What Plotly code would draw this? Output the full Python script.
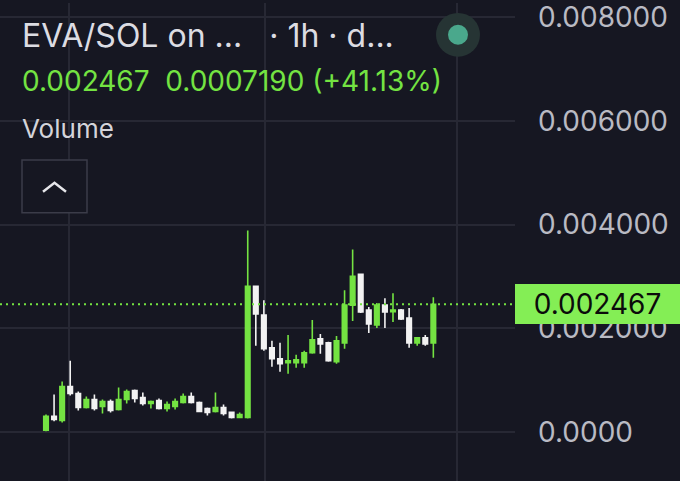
import plotly.graph_objects as go

# Candle values in units of 1e-6 SOL
UNIT = 1e-6
opens = [38, 306, 230, 880, 746, 478, 632, 498, 593, 440, 632, 804, 670, 555, 612, 459, 498, 574, 689, 574,
         459, 402, 478, 383, 287, 287, 2813, 2258, 1627, 1416, 1340, 1340, 1340, 1531, 1799, 1723, 1359, 1723,
         2450, 3043, 2354, 2067, 2450, 2325, 2354, 2201, 1723, 1818, 1723]
highs = [344, 727, 976, 1378, 785, 689, 727, 632, 632, 861, 823, 823, 766, 612, 651, 593, 651, 746, 766, 593,
         478, 766, 536, 402, 383, 3885, 2813, 2545, 1761, 1723, 1876, 1493, 1569, 2163, 1895, 1742, 1856, 2737,
         3522, 3043, 2412, 2488, 2584, 2679, 2373, 2392, 1837, 1876, 2603]
lows = [19, 211, 191, 708, 421, 459, 421, 364, 383, 421, 555, 574, 517, 459, 440, 402, 440, 555, 555, 402,
        325, 383, 325, 268, 287, 268, 1665, 1569, 1263, 1167, 1129, 1244, 1244, 1512, 1512, 1359, 1321, 1608,
        2144, 2297, 1914, 2010, 2010, 2124, 2163, 1627, 1665, 1665, 1435]
closes = [306, 249, 880, 746, 478, 632, 459, 593, 421, 632, 785, 651, 555, 593, 459, 536, 593, 689, 574, 402,
          383, 478, 364, 287, 344, 2813, 2278, 1608, 1416, 1321, 1378, 1397, 1531, 1780, 1703, 1378, 1761, 2450,
          3005, 2316, 2086, 2450, 2316, 2354, 2182, 1723, 1818, 1703, 2467]

ytick_vals = [0.0, 0.002, 0.004, 0.006, 0.008]
ytick_text = ["0.0000", "0.002000", "0.004000", "0.006000", "0.008000"]
xgrid_vals = [2.85, 27.1, 50.9]

title_text = "EVA/SOL on ...\u00a0\u00a0 · 1h · d..."
stats_text = "0.002467\u00a0 0.0007190 (+41.13%)"
volume_text = "Volume"
last_text = "0.002467"

o = [v * UNIT for v in opens]
h = [v * UNIT for v in highs]
l = [v * UNIT for v in lows]
c = [v * UNIT for v in closes]
idx = list(range(len(opens)))

BG = "#161722"
GRID = "#272834"
GREEN = "#74e342"
WHITE = "#f2f2f2"
FONT = "Inter"

W, H = 680, 481
PLOT_W = 515

fig = go.Figure()
fig.add_trace(go.Candlestick(
    x=idx, open=o, high=h, low=l, close=c,
    increasing=dict(fillcolor=GREEN, line=dict(color=GREEN, width=1.6)),
    decreasing=dict(fillcolor=WHITE, line=dict(color=WHITE, width=1.6)),
    whiskerwidth=0, hoverinfo="skip", showlegend=False,
))

last = c[-1]

def px_x(p):
    return p / PLOT_W

def px_y(p):
    return 1 - p / H

shapes = [
    dict(type="line", xref="paper", yref="y", x0=0, x1=1, y0=last, y1=last,
         line=dict(color=GREEN, width=2, dash="2px,4px"), layer="above"),
    # button
    dict(type="rect", xref="paper", yref="paper", x0=px_x(22), x1=px_x(87), y0=px_y(211), y1=px_y(158),
         line=dict(color="#3b3c49", width=1.5), fillcolor=BG, layer="above"),
    dict(type="path", xref="paper", yref="paper",
         path=f"M {px_x(43)} {px_y(190)} L {px_x(54.5)} {px_y(181)} L {px_x(66)} {px_y(190)}",
         line=dict(color="#e6e6ea", width=2.5), layer="above"),
    # status dot
    dict(type="circle", xref="paper", yref="paper", x0=px_x(436), x1=px_x(480), y0=px_y(54), y1=px_y(10),
         line=dict(width=0), fillcolor="#263434", layer="above"),
    dict(type="circle", xref="paper", yref="paper", x0=px_x(448), x1=px_x(468), y0=px_y(42), y1=px_y(22),
         line=dict(width=0), fillcolor="#4aa88c", layer="above"),
]

annotations = [
    dict(text=title_text, xref="paper", yref="paper", x=px_x(20), y=px_y(33), xanchor="left", yanchor="middle",
         showarrow=False, font=dict(family=FONT, size=32, color="#dcdce2")),
    dict(text=stats_text, xref="paper", yref="paper", x=px_x(20), y=px_y(78), xanchor="left", yanchor="middle",
         showarrow=False, font=dict(family=FONT, size=28, color=GREEN)),
    dict(text=volume_text, xref="paper", yref="paper", x=px_x(20), y=px_y(126), xanchor="left", yanchor="middle",
         showarrow=False, font=dict(family=FONT, size=26, color="#d4d4da")),
    dict(text=last_text, xref="paper", yref="y", x=1, y=last, xanchor="left", yanchor="middle",
         showarrow=False, bgcolor="#84ee55", width=165, height=40, borderpad=0, borderwidth=0,
         align="center", font=dict(family=FONT, size=28, color="#0b0b0b")),
]

fig.update_layout(
    width=W, height=H,
    margin=dict(l=0, r=W - PLOT_W, t=0, b=0),
    paper_bgcolor=BG, plot_bgcolor=BG,
    boxgap=0.2,
    shapes=shapes, annotations=annotations,
    xaxis=dict(range=[-5.70, 58.12], tickvals=xgrid_vals, showticklabels=False, showgrid=True,
               gridcolor=GRID, gridwidth=1.5, zeroline=False, showline=False, ticks="",
               rangeslider=dict(visible=False), fixedrange=True),
    yaxis=dict(side="right", range=[-0.000938, 0.008268], tickvals=ytick_vals, ticktext=ytick_text,
               showgrid=True, gridcolor=GRID, gridwidth=1.5, zeroline=False, showline=False, ticks="",
               ticklabelstandoff=22, ticklabeloverflow="allow",
               tickfont=dict(family=FONT, size=28, color="#b9bac3"), fixedrange=True),
    font=dict(family=FONT),
)

fig.write_html("out.html", config=dict(displayModeBar=False),
               post_script="document.body.style.margin='0';document.body.style.background='#161722';")
